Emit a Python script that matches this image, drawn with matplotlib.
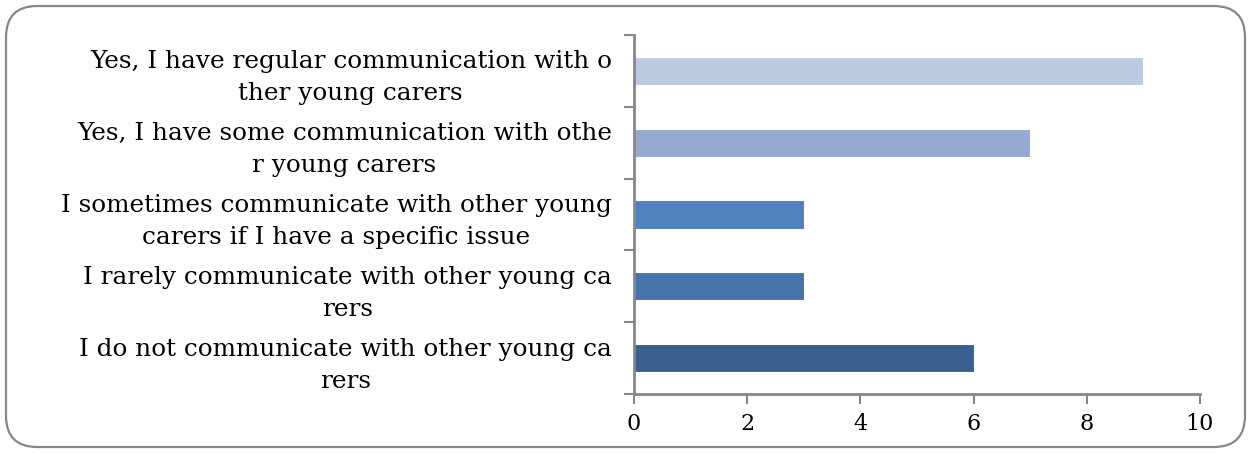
import matplotlib
matplotlib.use("Agg")
import matplotlib.pyplot as plt
from matplotlib.patches import FancyBboxPatch
import numpy as np

# Survey answers, bottom to top as drawn on the y axis
answers = [
    "I do not communicate with other young ca\nrers",
    "I rarely communicate with other young ca\nrers",
    "I sometimes communicate with other young\ncarers if I have a specific issue",
    "Yes, I have some communication with othe\nr young carers",
    "Yes, I have regular communication with o\nther young carers",
]
counts = [6, 3, 3, 7, 9]
bar_colors = ["#3B5F8C", "#4673A9", "#4F81BD", "#95AAD1", "#BBC9E1"]

x_ticks = [0, 2, 4, 6, 8, 10]
GRAY = "#878787"
FONT = "DejaVu Serif"

fig = plt.figure(figsize=(12.51, 4.53), dpi=100)
ax = fig.add_axes([634 / 1251, 1 - 394 / 453, 566 / 1251, 359 / 453])

y = np.arange(len(answers))
ax.barh(y, counts, height=0.39, color=bar_colors, edgecolor="white", linewidth=0.8)

ax.set_xlim(0, 10)
ax.set_ylim(-0.5, len(answers) - 0.5)
ax.set_xticks(x_ticks)
ax.set_xticklabels([str(t) for t in x_ticks], fontfamily=FONT, fontsize=16)

# category labels sit between the boundary ticks
ax.set_yticks(np.arange(len(answers) + 1) - 0.5)
ax.set_yticklabels([])
ax.set_yticks(y, minor=True)
ax.set_yticklabels(answers, minor=True, fontfamily=FONT, fontsize=17.8,
                   multialignment="center", linespacing=1.5)
ax.tick_params(axis="y", which="minor", length=0, pad=16)
ax.tick_params(axis="y", which="major", length=7, width=1.5, color=GRAY, direction="out")
ax.tick_params(axis="x", length=7, width=1.5, color=GRAY, direction="out", pad=7)

for side in ("top", "right"):
    ax.spines[side].set_visible(False)
for side in ("left", "bottom"):
    ax.spines[side].set_color(GRAY)
    ax.spines[side].set_linewidth(2)

# rounded frame around the whole chart
frame = FancyBboxPatch((6 / 1251, 6 / 453), 1239 / 1251, 441 / 453,
                       boxstyle="round,pad=0,rounding_size=0.025",
                       transform=fig.transFigure, facecolor="none",
                       edgecolor=GRAY, linewidth=1.6, mutation_aspect=1251 / 453)
fig.patches.append(frame)

fig.savefig("out.png", dpi=100)
